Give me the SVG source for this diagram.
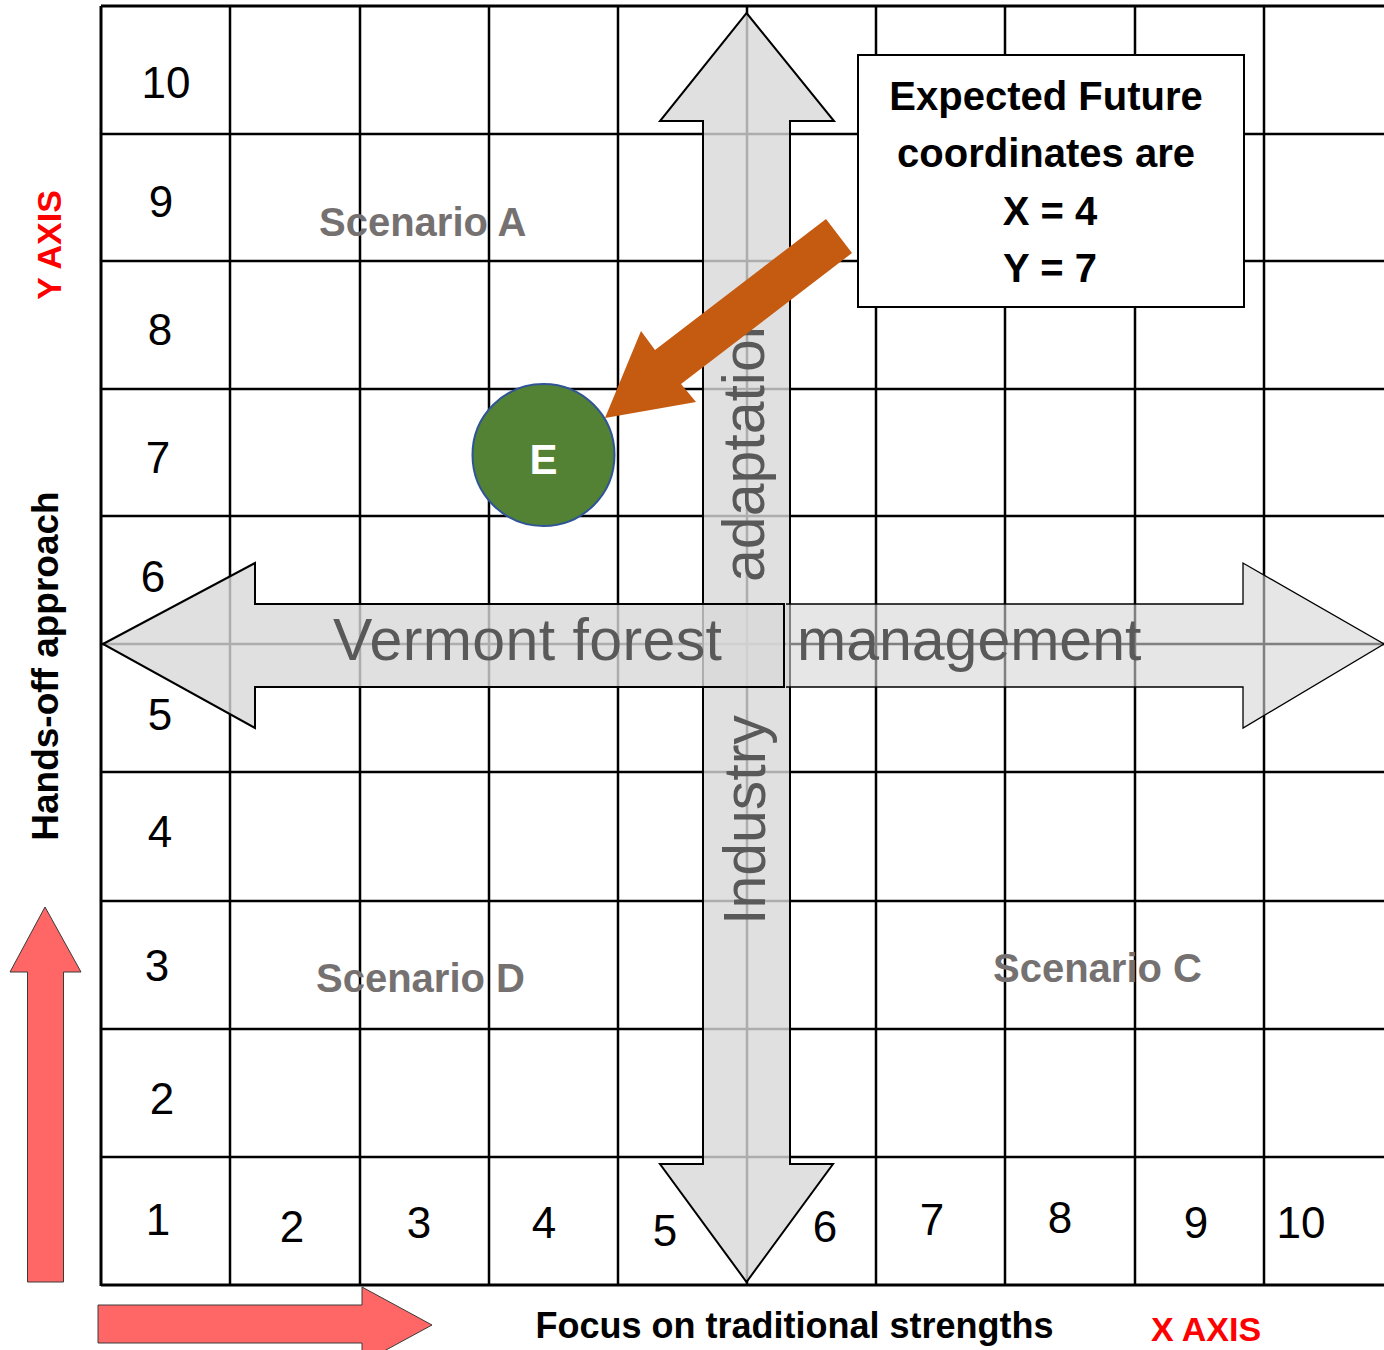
<svg xmlns="http://www.w3.org/2000/svg" width="1384" height="1350" viewBox="0 0 1384 1350">
<style>
.grid{stroke:#000;stroke-width:2.5;fill:none}
.border{stroke:#000;stroke-width:3;fill:none}
.lbl{font-family:"Liberation Sans",Arial,sans-serif;font-size:44px;fill:#000;text-anchor:middle}
.big{font-family:"Liberation Sans",Arial,sans-serif;font-size:59px;fill:#595959}
.scn{font-family:"Liberation Sans",Arial,sans-serif;font-size:40px;font-weight:bold;fill:#767171}
.bold{font-family:"Liberation Sans",Arial,sans-serif;font-weight:bold;text-anchor:middle}
.garrow{fill:#d8d8d8;fill-opacity:0.8;stroke:#000;stroke-width:2}
.garrow2{fill:#d5d5d5;fill-opacity:0.6;stroke:none}
.gedge{fill:none;stroke:#000;stroke-width:1.3}
.red{fill:#ff6666;stroke:#3a3a3a;stroke-width:1}
</style>
<rect x="0" y="0" width="1384" height="1350" fill="#fff"/>
<g id="grid">
<path class="grid" d="M230 6V1285M360 6V1285M489 6V1285M618 6V1285M747 6V1285M876 6V1285M1005 6V1285M1135 6V1285M1264 6V1285M101 134H1384M101 261H1384M101 389H1384M101 516H1384M101 644H1384M101 772H1384M101 901H1384M101 1029H1384M101 1157H1384"/>
<path class="border" d="M101 6H1384M101 6V1286M101 1285H1384"/>
</g>
<g id="y-labels">
<text class="lbl" x="166" y="98">10</text>
<text class="lbl" x="161" y="217">9</text>
<text class="lbl" x="160" y="345">8</text>
<text class="lbl" x="158" y="473">7</text>
<text class="lbl" x="153" y="592">6</text>
<text class="lbl" x="160" y="730">5</text>
<text class="lbl" x="160" y="847">4</text>
<text class="lbl" x="157" y="981">3</text>
<text class="lbl" x="162" y="1114">2</text>
<text class="lbl" x="158" y="1235">1</text>
</g>
<g id="x-labels">
<text class="lbl" x="292" y="1242">2</text>
<text class="lbl" x="419" y="1238">3</text>
<text class="lbl" x="544" y="1238">4</text>
<text class="lbl" x="665" y="1246">5</text>
<text class="lbl" x="825" y="1242">6</text>
<text class="lbl" x="932" y="1235">7</text>
<text class="lbl" x="1060" y="1233">8</text>
<text class="lbl" x="1196" y="1238">9</text>
<text class="lbl" x="1301" y="1238">10</text>
</g>
<g id="scenarios">
<text class="scn" x="319" y="236">Scenario A</text>
<text class="scn" x="316" y="992">Scenario D</text>
<text class="scn" x="993" y="982">Scenario C</text>
</g>
<g id="industry-arrow">
<polygon class="garrow" points="746.5,13 834,121 790,121 790,1164 833,1164 746.5,1282 660,1164 703,1164 703,121 660,121"/>
<text class="big" transform="translate(764,582) rotate(-90)">adaptation</text>
<text class="big" transform="translate(765,925) rotate(-90)">Industry</text>
</g>
<g id="forest-arrow">
<polygon class="garrow" points="103,644 255,563 255,604 784,604 784,687 255,687 255,728"/>
<text class="big" x="333" y="660" textLength="389">Vermont forest</text>
</g>
<g id="management-arrow">
<polygon class="garrow2" points="786,604 1243,604 1243,563 1384,644 1243,728 1243,687 786,687"/>
<path class="gedge" d="M786 604H1243V563L1384 644L1243 728V687H786"/>
<text class="big" x="797" y="660">management</text>
</g>
<g id="node-E">
<circle cx="543.5" cy="455" r="71" fill="#548235" stroke="#2f5597" stroke-width="2"/>
<text class="bold" x="543.5" y="474" font-size="42" fill="#fff">E</text>
</g>
<g id="connectors">
<polygon points="826,219 655,350 641,331 605,418 696,402 681,384 852,253" fill="#c55a11"/>
</g>
<g id="info-box">
<rect x="858" y="55" width="386" height="252" fill="#fff" stroke="#000" stroke-width="2"/>
<text class="bold" x="1046" y="110" font-size="40" fill="#000">Expected Future</text>
<text class="bold" x="1046" y="167" font-size="40" fill="#000">coordinates are</text>
<text class="bold" x="1050" y="225" font-size="40" fill="#000">X = 4</text>
<text class="bold" x="1050" y="282" font-size="40" fill="#000">Y = 7</text>
</g>
<g id="y-axis">
<polygon class="red" points="45,907 81,972 63.5,972 63.5,1282 27.5,1282 27.5,972 10,972"/>
<text class="bold" transform="translate(58,666) rotate(-90)" font-size="37" fill="#000">Hands-off approach</text>
<text class="bold" transform="translate(61,245) rotate(-90)" font-size="34" fill="#ff0000">Y AXIS</text>
</g>
<g id="x-axis">
<polygon class="red" points="98,1305 362,1305 362,1287 432,1325 362,1363 362,1343 98,1343"/>
<text class="bold" x="794.5" y="1338" font-size="36" fill="#000">Focus on traditional strengths</text>
<text class="bold" x="1206" y="1341" font-size="34" fill="#ff0000">X AXIS</text>
</g>
</svg>
